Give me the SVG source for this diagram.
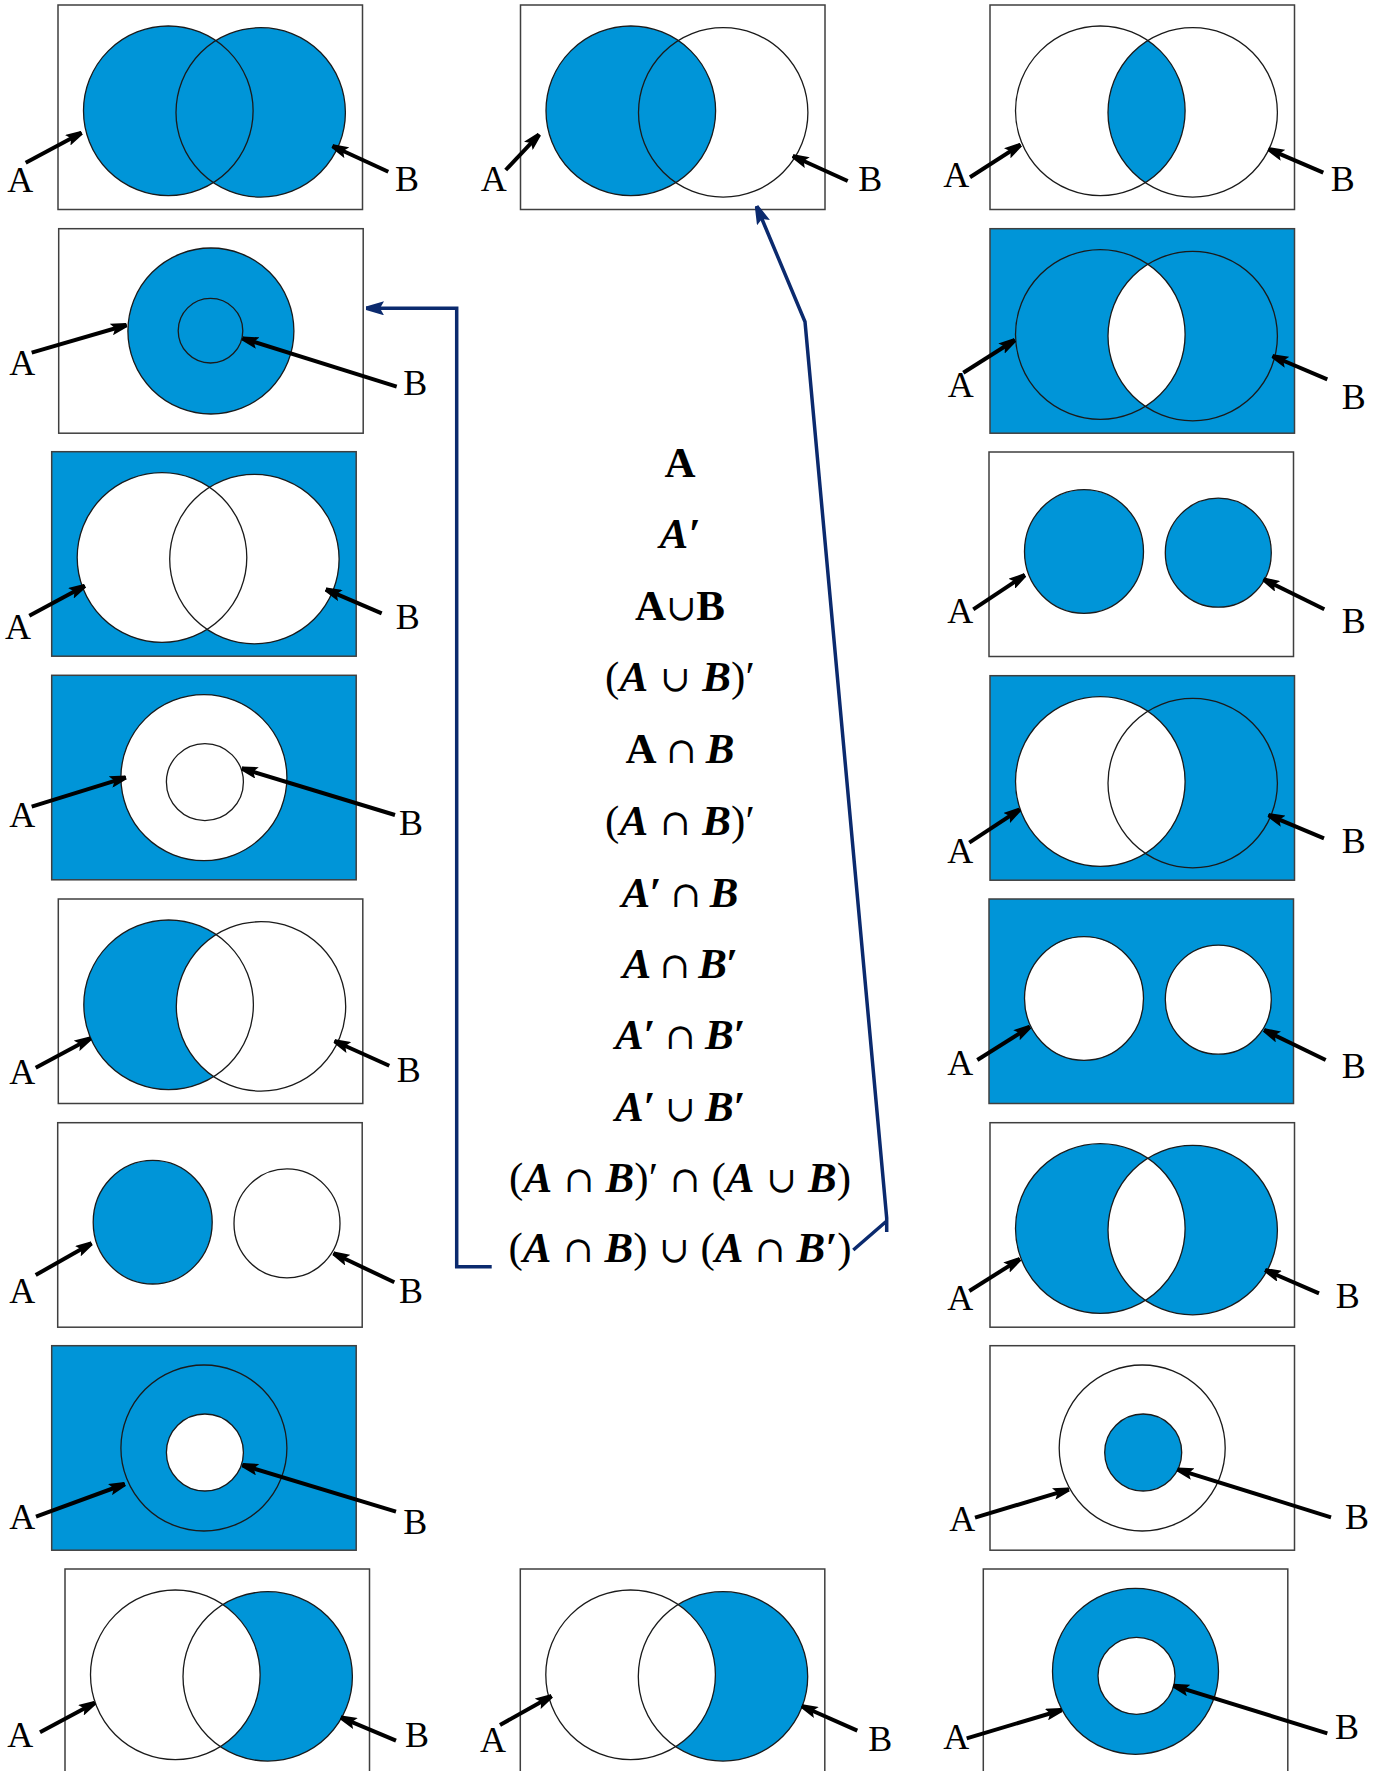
<svg xmlns="http://www.w3.org/2000/svg" xmlns:xlink="http://www.w3.org/1999/xlink" width="1381" height="1771" viewBox="0 0 1381 1771">
<style>
.box{stroke:#3f3f3f;stroke-width:1.5}
.bw{fill:#ffffff}
.bb{fill:#0095d8}
.blue{fill:#0095d8}
.white{fill:#ffffff}
.ol{fill:none;stroke:#1a1a1a;stroke-width:1.3}
.ptr{stroke:#000;stroke-width:4;fill:none;marker-end:url(#ah)}
.lbl{font-family:"Liberation Serif","Times New Roman",serif;font-size:36px;fill:#000}
.conn{stroke:#0b2a6e;stroke-width:3.5;fill:none;stroke-linejoin:miter}
.fm{font-family:"Liberation Serif","DejaVu Serif",serif;font-size:43px;text-anchor:middle;fill:#000}
.bi{font-weight:bold;font-style:italic}
.b{font-weight:bold;font-style:normal}
.rp{font-weight:normal;font-style:normal}
.op{font-family:"DejaVu Serif",serif;font-weight:normal;font-style:normal;font-size:36px}
</style>
<defs>
<marker id="ah" viewBox="0 0 16 12" refX="16" refY="6" markerWidth="16" markerHeight="12" markerUnits="userSpaceOnUse" orient="auto"><path d="M0,0 L16,4 L16,8 L0,12 L4,6 z" fill="#000"/></marker>
<marker id="nah" viewBox="0 0 18 14" refX="18" refY="7" markerWidth="18" markerHeight="14" markerUnits="userSpaceOnUse" orient="auto"><path d="M0,0 L18,5.2 L18,8.8 L0,14 L4,7 z" fill="#0b2a6e"/></marker>
<circle id="vA" cx="110.3" cy="105.8" r="84.8"/>
<circle id="vB" cx="202.7" cy="107.4" r="84.7"/>
<clipPath id="cvA"><circle cx="110.3" cy="105.8" r="84.8"/></clipPath>
<clipPath id="cvB"><circle cx="202.7" cy="107.4" r="84.7"/></clipPath>
<circle id="cBig" cx="152.2" cy="102.3" r="83"/>
<circle id="cSm" cx="153.2" cy="106.8" r="38.5"/>
<ellipse id="sA" cx="95" cy="99.5" rx="59.5" ry="61.8"/>
<ellipse id="sB" cx="229.3" cy="100.7" rx="53" ry="54.5"/>
</defs>
<rect width="1381" height="1771" fill="#ffffff"/>

<!-- Row 1 -->
<g id="n-r1c1">
<g transform="translate(58,5)">
<rect class="box bw" width="304.5" height="204.5"/>
<use href="#vA" class="blue"/><use href="#vB" class="blue"/>
<use href="#vA" class="ol"/><use href="#vB" class="ol"/>
</g>
<line class="ptr" x1="25.7" y1="162.7" x2="81.7" y2="132.7"/>
<line class="ptr" x1="388.3" y1="171.7" x2="332.3" y2="146"/>
<text class="lbl" x="7.3" y="191.7">A</text><text class="lbl" x="395" y="191">B</text>
</g>

<g id="n-r1c2">
<g transform="translate(520.5,5)">
<rect class="box bw" width="304.5" height="204.5"/>
<use href="#vA" class="blue"/>
<use href="#vA" class="ol"/><use href="#vB" class="ol"/>
</g>
<line class="ptr" x1="505.7" y1="170" x2="539.3" y2="134.3"/>
<line class="ptr" x1="847.7" y1="181" x2="792.7" y2="156"/>
<text class="lbl" x="480.7" y="191">A</text><text class="lbl" x="858.3" y="191">B</text>
</g>

<g id="n-r1c3">
<g transform="translate(990,5)">
<rect class="box bw" width="304.5" height="204.5"/>
<use href="#vB" class="blue" clip-path="url(#cvA)"/>
<use href="#vA" class="ol"/><use href="#vB" class="ol"/>
</g>
<line class="ptr" x1="970" y1="177.3" x2="1020.7" y2="144.7"/>
<line class="ptr" x1="1323.3" y1="172.7" x2="1268.3" y2="149"/>
<text class="lbl" x="943.3" y="186.7">A</text><text class="lbl" x="1330.7" y="190.7">B</text>
</g>

<!-- Row 2 -->
<g id="n-r2c1">
<g transform="translate(58.7,228.7)">
<rect class="box bw" width="304.5" height="204.5"/>
<use href="#cBig" class="blue"/>
<use href="#cBig" class="ol"/>
<circle class="ol" cx="151.8" cy="102" r="32.3"/>
</g>
<line class="ptr" x1="31.7" y1="352.7" x2="126.7" y2="325"/>
<line class="ptr" x1="396.7" y1="386.7" x2="242.3" y2="338.3"/>
<text class="lbl" x="9.3" y="375">A</text><text class="lbl" x="403.3" y="395">B</text>
</g>

<g id="n-r2c3">
<g transform="translate(990,228.7)">
<rect class="box bb" width="304.5" height="204.5"/>
<use href="#vB" class="white" clip-path="url(#cvA)"/>
<use href="#vA" class="ol"/><use href="#vB" class="ol"/>
</g>
<line class="ptr" x1="963.3" y1="372.7" x2="1015" y2="340"/>
<line class="ptr" x1="1327.3" y1="379.3" x2="1272.3" y2="356"/>
<text class="lbl" x="947.7" y="397.3">A</text><text class="lbl" x="1341.7" y="409.3">B</text>
</g>

<!-- Row 3 -->
<g id="n-r3c1">
<g transform="translate(51.7,451.7)">
<rect class="box bb" width="304.5" height="204.5"/>
<use href="#vA" class="white"/><use href="#vB" class="white"/>
<use href="#vA" class="ol"/><use href="#vB" class="ol"/>
</g>
<line class="ptr" x1="29.3" y1="615.7" x2="85" y2="585.7"/>
<line class="ptr" x1="381.7" y1="613.3" x2="325.7" y2="589.3"/>
<text class="lbl" x="5" y="639.3">A</text><text class="lbl" x="395.7" y="629.3">B</text>
</g>

<g id="n-r3c3">
<g transform="translate(989,452)">
<rect class="box bw" width="304.5" height="204.5"/>
<use href="#sA" class="blue"/><use href="#sB" class="blue"/>
<use href="#sA" class="ol"/><use href="#sB" class="ol"/>
</g>
<line class="ptr" x1="973.3" y1="609.3" x2="1025" y2="575"/>
<line class="ptr" x1="1324.3" y1="609.3" x2="1263.3" y2="579.3"/>
<text class="lbl" x="947.3" y="623.3">A</text><text class="lbl" x="1341.7" y="633.3">B</text>
</g>

<!-- Row 4 -->
<g id="n-r4c1">
<g transform="translate(51.7,675.3)">
<rect class="box bb" width="304.5" height="204.5"/>
<use href="#cBig" class="white"/>
<use href="#cBig" class="ol"/><use href="#cSm" class="ol"/>
</g>
<line class="ptr" x1="31.7" y1="806.7" x2="126" y2="777.3"/>
<line class="ptr" x1="395" y1="815" x2="241.7" y2="768.3"/>
<text class="lbl" x="9.3" y="826.7">A</text><text class="lbl" x="399" y="835">B</text>
</g>

<g id="n-r4c3">
<g transform="translate(990,675.7)">
<rect class="box bb" width="304.5" height="204.5"/>
<use href="#vA" class="white"/>
<use href="#vA" class="ol"/><use href="#vB" class="ol"/>
</g>
<line class="ptr" x1="969.3" y1="842.7" x2="1020" y2="809.3"/>
<line class="ptr" x1="1324" y1="838.3" x2="1268.3" y2="815"/>
<text class="lbl" x="947.3" y="863.3">A</text><text class="lbl" x="1341.7" y="852.7">B</text>
</g>

<!-- Row 5 -->
<g id="n-r5c1">
<g transform="translate(58.3,899)">
<rect class="box bw" width="304.5" height="204.5"/>
<use href="#vA" class="blue"/>
<use href="#vB" class="white" clip-path="url(#cvA)"/>
<use href="#vA" class="ol"/><use href="#vB" class="ol"/>
</g>
<line class="ptr" x1="35.7" y1="1067.7" x2="90.7" y2="1038.3"/>
<line class="ptr" x1="389.3" y1="1065.7" x2="334.3" y2="1041"/>
<text class="lbl" x="9.3" y="1084">A</text><text class="lbl" x="396.7" y="1081.7">B</text>
</g>

<g id="n-r5c3">
<g transform="translate(989,899)">
<rect class="box bb" width="304.5" height="204.5"/>
<use href="#sA" class="white"/><use href="#sB" class="white"/>
<use href="#sA" class="ol"/><use href="#sB" class="ol"/>
</g>
<line class="ptr" x1="977.3" y1="1060" x2="1030" y2="1026.7"/>
<line class="ptr" x1="1325.7" y1="1060" x2="1264" y2="1030"/>
<text class="lbl" x="947.3" y="1075">A</text><text class="lbl" x="1341.7" y="1078.3">B</text>
</g>

<!-- Row 6 -->
<g id="n-r6c1">
<g transform="translate(57.7,1122.7)">
<rect class="box bw" width="304.5" height="204.5"/>
<use href="#sA" class="blue"/>
<use href="#sA" class="ol"/><use href="#sB" class="ol"/>
</g>
<line class="ptr" x1="35.7" y1="1275" x2="91.7" y2="1243.3"/>
<line class="ptr" x1="394.3" y1="1282.3" x2="333.3" y2="1253.3"/>
<text class="lbl" x="9.3" y="1302.7">A</text><text class="lbl" x="399" y="1302.7">B</text>
</g>

<g id="n-r6c3">
<g transform="translate(990,1122.7)">
<rect class="box bw" width="304.5" height="204.5"/>
<use href="#vA" class="blue"/><use href="#vB" class="blue"/>
<use href="#vB" class="white" clip-path="url(#cvA)"/>
<use href="#vA" class="ol"/><use href="#vB" class="ol"/>
</g>
<line class="ptr" x1="969.3" y1="1291" x2="1020" y2="1259"/>
<line class="ptr" x1="1319" y1="1293.3" x2="1265" y2="1270"/>
<text class="lbl" x="947.3" y="1310">A</text><text class="lbl" x="1335.7" y="1307.7">B</text>
</g>

<!-- Row 7 -->
<g id="n-r7c1">
<g transform="translate(51.7,1345.7)">
<rect class="box bb" width="304.5" height="204.5"/>
<use href="#cSm" class="white"/>
<use href="#cBig" class="ol"/><use href="#cSm" class="ol"/>
</g>
<line class="ptr" x1="36" y1="1516.7" x2="125" y2="1484"/>
<line class="ptr" x1="396" y1="1511.7" x2="242.3" y2="1465"/>
<text class="lbl" x="9.3" y="1529.3">A</text><text class="lbl" x="403.3" y="1534">B</text>
</g>

<g id="n-r7c3">
<g transform="translate(990,1345.7)">
<rect class="box bw" width="304.5" height="204.5"/>
<use href="#cSm" class="blue"/>
<use href="#cBig" class="ol"/><use href="#cSm" class="ol"/>
</g>
<line class="ptr" x1="975" y1="1517.7" x2="1069" y2="1489.3"/>
<line class="ptr" x1="1331" y1="1517.3" x2="1177.3" y2="1469.3"/>
<text class="lbl" x="949.3" y="1531">A</text><text class="lbl" x="1345" y="1529.3">B</text>
</g>

<!-- Row 8 -->
<g id="n-r8c1">
<g transform="translate(65,1569)">
<rect class="box bw" width="304.5" height="204.5"/>
<use href="#vB" class="blue"/>
<use href="#vA" class="white" clip-path="url(#cvB)"/>
<use href="#vA" class="ol"/><use href="#vB" class="ol"/>
</g>
<line class="ptr" x1="40" y1="1732.3" x2="95" y2="1702.7"/>
<line class="ptr" x1="396" y1="1740.7" x2="340.7" y2="1717.3"/>
<text class="lbl" x="7.3" y="1746.7">A</text><text class="lbl" x="405" y="1746.7">B</text>
</g>

<g id="n-r8c2">
<g transform="translate(520.3,1569)">
<rect class="box bw" width="304.5" height="204.5"/>
<use href="#vB" class="blue"/>
<use href="#vA" class="white" clip-path="url(#cvB)"/>
<use href="#vA" class="ol"/><use href="#vB" class="ol"/>
</g>
<line class="ptr" x1="500" y1="1725" x2="551.7" y2="1696"/>
<line class="ptr" x1="857.3" y1="1730.7" x2="801.7" y2="1706"/>
<text class="lbl" x="480" y="1751.7">A</text><text class="lbl" x="868.3" y="1750.7">B</text>
</g>

<g id="n-r8c3">
<g transform="translate(983.3,1569)">
<rect class="box bw" width="304.5" height="204.5"/>
<use href="#cBig" class="blue"/>
<use href="#cSm" class="white"/>
<use href="#cBig" class="ol"/><use href="#cSm" class="ol"/>
</g>
<line class="ptr" x1="966.7" y1="1738.3" x2="1061.7" y2="1710"/>
<line class="ptr" x1="1327.3" y1="1733.3" x2="1173.3" y2="1685.7"/>
<text class="lbl" x="943.3" y="1749.3">A</text><text class="lbl" x="1335" y="1739.3">B</text>
</g>

<!-- Formula list -->
<g id="formulas">
<text class="fm" x="680" y="476.7"><tspan class="b">A</tspan></text>
<text class="fm" x="680" y="548.3"><tspan class="bi">A′</tspan></text>
<text class="fm" x="680" y="620"><tspan class="b">A</tspan><tspan class="op">∪</tspan><tspan class="b">B</tspan></text>
<text class="fm" x="680" y="690.7" textLength="150" lengthAdjust="spacing"><tspan class="rp">(</tspan><tspan class="bi">A</tspan><tspan class="op"> ∪ </tspan><tspan class="bi">B</tspan><tspan class="rp">)′</tspan></text>
<text class="fm" x="680" y="763.3" textLength="109" lengthAdjust="spacing"><tspan class="b">A</tspan><tspan class="op"> ∩ </tspan><tspan class="bi">B</tspan></text>
<text class="fm" x="680" y="835" textLength="150" lengthAdjust="spacing"><tspan class="rp">(</tspan><tspan class="bi">A</tspan><tspan class="op"> ∩ </tspan><tspan class="bi">B</tspan><tspan class="rp">)′</tspan></text>
<text class="fm" x="680" y="906.7" textLength="117" lengthAdjust="spacing"><tspan class="bi">A′</tspan><tspan class="op"> ∩ </tspan><tspan class="bi">B</tspan></text>
<text class="fm" x="680" y="978.3" textLength="115" lengthAdjust="spacing"><tspan class="bi">A</tspan><tspan class="op"> ∩ </tspan><tspan class="bi">B′</tspan></text>
<text class="fm" x="680" y="1049.3" textLength="130" lengthAdjust="spacing"><tspan class="bi">A′</tspan><tspan class="op"> ∩ </tspan><tspan class="bi">B′</tspan></text>
<text class="fm" x="680" y="1120.7" textLength="130" lengthAdjust="spacing"><tspan class="bi">A′</tspan><tspan class="op"> ∪ </tspan><tspan class="bi">B′</tspan></text>
<text class="fm" x="680" y="1191.7" textLength="342" lengthAdjust="spacing"><tspan class="rp">(</tspan><tspan class="bi">A</tspan><tspan class="op"> ∩ </tspan><tspan class="bi">B</tspan><tspan class="rp">)′</tspan><tspan class="op"> ∩ </tspan><tspan class="rp">(</tspan><tspan class="bi">A</tspan><tspan class="op"> ∪ </tspan><tspan class="bi">B</tspan><tspan class="rp">)</tspan></text>
<text class="fm" x="680" y="1261.7" textLength="343" lengthAdjust="spacing"><tspan class="rp">(</tspan><tspan class="bi">A</tspan><tspan class="op"> ∩ </tspan><tspan class="bi">B</tspan><tspan class="rp">)</tspan><tspan class="op"> ∪ </tspan><tspan class="rp">(</tspan><tspan class="bi">A</tspan><tspan class="op"> ∩ </tspan><tspan class="bi">B′</tspan><tspan class="rp">)</tspan></text>
</g>

<!-- Connectors -->
<g id="connectors">
<path class="conn" d="M491.7,1266.7 L456.7,1266.7 L456.7,308.3 L366,308.3" marker-end="url(#nah)"/>
<path class="conn" d="M853.3,1250 L886.7,1221 M886.7,1232 L886.7,1218 L805,321.7 L756.5,206" marker-end="url(#nah)"/>
</g>
</svg>
